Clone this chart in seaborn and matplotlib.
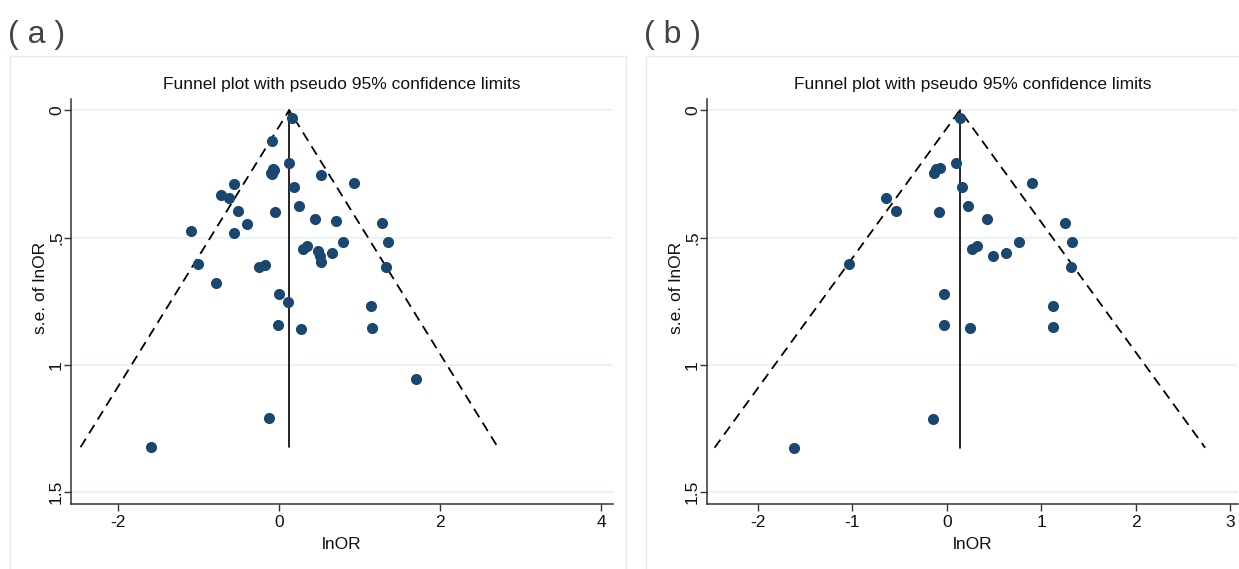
import matplotlib
matplotlib.use("Agg")
import matplotlib.pyplot as plt
import seaborn as sns
import numpy as np
import pandas as pd
from matplotlib.patches import Rectangle

# ---- data ----
a_lnor = [0.157, -0.087, 0.12, -0.10, -0.08, -0.06, -0.09, 0.524, 0.929, 0.19,
          -0.557, -0.72, -0.62, -0.516, -0.054, 0.243, 0.45, 0.70, -0.405, -1.098,
          -0.557, 0.293, 0.347, 0.487, 0.508, 0.52, 0.652, 0.79, -1.015, -0.252,
          -0.177, -0.79, -0.004, 0.107, 1.143, -0.016, 0.268, 1.148, 1.705, -0.124,
          -1.598, 1.276, 1.354, 1.333]
a_se = [0.031, 0.119, 0.208, 0.245, 0.232, 0.235, 0.25, 0.256, 0.284, 0.301,
        0.29, 0.332, 0.345, 0.395, 0.40, 0.378, 0.428, 0.433, 0.448, 0.474,
        0.483, 0.546, 0.534, 0.552, 0.572, 0.594, 0.561, 0.516, 0.605, 0.615,
        0.606, 0.68, 0.72, 0.752, 0.768, 0.843, 0.857, 0.854, 1.056, 1.21,
        1.323, 0.441, 0.516, 0.615]
a_center = 0.124

b_lnor = [0.135, 0.096, -0.135, -0.117, -0.074, 0.906, 0.166, -0.648, -0.541, -0.078,
          0.223, 0.428, 1.256, 1.33, 0.764, 0.269, 0.322, 0.485, 0.63, 1.313,
          -1.033, -0.028, 1.122, -0.035, 0.244, 1.128, -0.141, -1.617]
b_se = [0.031, 0.208, 0.247, 0.232, 0.228, 0.284, 0.301, 0.345, 0.395, 0.40,
        0.378, 0.428, 0.441, 0.516, 0.516, 0.546, 0.534, 0.574, 0.561, 0.615,
        0.605, 0.72, 0.768, 0.843, 0.856, 0.853, 1.212, 1.325]
b_center = 0.138

a_xticks = [-2, 0, 2, 4]
b_xticks = [-2, -1, 0, 1, 2, 3]
y_ticks = [0, 0.5, 1, 1.5]
y_ticklabels = ["0", ".5", "1", "1.5"]
title = "Funnel plot with pseudo 95% confidence limits"
xlabel = "lnOR"
ylabel = "s.e. of lnOR"
z95 = 1.96

# ---- style ----
sns.set_theme(style="white")
plt.rcParams['font.family'] = ['Liberation Sans', 'DejaVu Sans']

W, H = 1239, 569
fig = plt.figure(figsize=(W / 100, H / 100), dpi=100)
fig.patch.set_facecolor("white")

navy = "#1a476f"
grid_c = "#eaf2f3"


def px_axes(l, t, r, b):
    return fig.add_axes([l / W, 1 - b / H, (r - l) / W, (b - t) / H])


def funnel(ax, lnor, se, center, xlim, xticks, box, label, label_xy):
    df = pd.DataFrame({"lnOR": lnor, "se": se})
    se_max = df["se"].max()
    # grid lines
    for yt in y_ticks:
        ax.axhline(yt, color=grid_c, lw=1.6, zorder=0)
    # pseudo 95% limits
    ax.plot([center - z95 * se_max, center, center + z95 * se_max],
            [se_max, 0, se_max], color="black", lw=1.3,
            dashes=(5.5, 3.5), zorder=2)
    ax.plot([center, center], [0, se_max], color="black", lw=1.2, zorder=2)
    sns.scatterplot(data=df, x="lnOR", y="se", ax=ax, color=navy, s=64,
                    linewidth=0, zorder=3, legend=False)
    ax.set_xlim(*xlim)
    ax.set_ylim(1.546, -0.044)
    ax.set_xticks(xticks)
    ax.set_xticklabels([str(t) for t in xticks])
    ax.set_yticks(y_ticks)
    ax.set_yticklabels(y_ticklabels, rotation=90, va="center")
    ax.tick_params(axis="both", which="both", direction="out", length=5,
                   width=1, color="#333333", labelsize=12.5, labelcolor="#111111",
                   left=True, bottom=True)
    ax.tick_params(axis="x", pad=3)
    ax.tick_params(axis="y", pad=0)
    for s in ["top", "right"]:
        ax.spines[s].set_visible(False)
    for s in ["left", "bottom"]:
        ax.spines[s].set_color("#333333")
        ax.spines[s].set_linewidth(1.1)
    ax.set_facecolor("white")
    ax.set_xlabel(xlabel, fontsize=12.5, color="#111111", labelpad=5)
    ax.set_ylabel(ylabel, fontsize=12.5, color="#111111")
    ax.yaxis.set_label_coords(-0.043, 0.533)
    ax.set_title(title, fontsize=12.5, color="#111111", pad=7)
    # outer graph-region box
    l, t, r, b = box
    fig.patches.append(Rectangle((l / W, 1 - b / H), (r - l) / W, (b - t) / H,
                                 transform=fig.transFigure, fill=False,
                                 edgecolor="#e4ecee", lw=1.0, zorder=0))
    fig.text(label_xy[0] / W, 1 - label_xy[1] / H, label, fontsize=23,
             color="#444444", ha="left", va="center")


ax_a = px_axes(71, 99, 613, 504)
ax_b = px_axes(707, 99, 1238, 504)

funnel(ax_a, a_lnor, a_se, a_center, (-2.588, 4.149), a_xticks,
       (10, 56, 626, 580), "( a )", (8, 35))
funnel(ax_b, b_lnor, b_se, b_center, (-2.539, 3.083), b_xticks,
       (646, 56, 1250, 580), "( b )", (644, 35))

fig.savefig("out.png", dpi=100, facecolor="white")
